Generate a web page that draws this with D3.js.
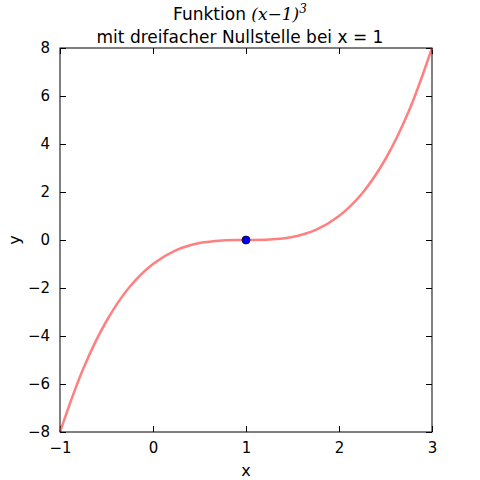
<!DOCTYPE html>
<html><head><meta charset="utf-8">
<script src="https://cdn.jsdelivr.net/npm/d3@7"></script>
<style>body{margin:0;background:#fff}text{font-family:"DejaVu Sans",sans-serif}</style>
</head><body><div id="chart"></div>
<script>
// curve values
const xs = [-1, -0.75, -0.5, -0.25, 0, 0.25, 0.5, 0.75, 1, 1.25, 1.5, 1.75, 2, 2.25, 2.5, 2.75, 3];
const ys = [-8, -5.36, -3.375, -1.95, -1, -0.42, -0.125, -0.016, 0, 0.016, 0.125, 0.42, 1, 1.95, 3.375, 5.36, 8];
const root = [{x: 1, y: 0}];
const xTicks = [-1, 0, 1, 2, 3];
const yTicks = [-8, -6, -4, -2, 0, 2, 4, 6, 8];

const width = 480, height = 480;
const margin = {top: 48, right: 48, bottom: 48, left: 60};
const data = xs.map((x, i) => ({x, y: ys[i]}));

const svg = d3.select("#chart").append("svg").attr("width", width).attr("height", height);

const xScale = d3.scaleLinear().domain([-1, 3]).range([margin.left, width - margin.right]);
const yScale = d3.scaleLinear().domain([-8, 8]).range([height - margin.bottom, margin.top]);

const fmt = (d) => d < 0 ? "\u2212" + Math.abs(d) : d;

// ticks inward on all four sides
const axes = [
  [d3.axisBottom(xScale).tickValues(xTicks).tickFormat(fmt), `translate(0,${height - margin.bottom})`, true],
  [d3.axisTop(xScale).tickValues(xTicks).tickFormat(""), `translate(0,${margin.top})`, false],
  [d3.axisLeft(yScale).tickValues(yTicks).tickFormat(fmt), `translate(${margin.left},0)`, true],
  [d3.axisRight(yScale).tickValues(yTicks).tickFormat(""), `translate(${width - margin.right},0)`, false],
];
axes.forEach(([ax, tr]) => {
  const g = svg.append("g").attr("transform", tr).call(ax.tickSizeInner(-6).tickSizeOuter(0).tickPadding(10));
  g.select(".domain").remove();
  g.selectAll("text").attr("font-size", 15).attr("fill", "#000");
  g.selectAll("line").attr("stroke", "#000");
});

svg.append("path")
  .datum(data)
  .attr("fill", "none")
  .attr("stroke", "#ff8080")
  .attr("stroke-width", 2.5)
  .attr("d", d3.line().x((d) => xScale(d.x)).y((d) => yScale(d.y)).curve(d3.curveCatmullRom));

svg.selectAll("circle.root").data(root).join("circle")
  .attr("cx", (d) => xScale(d.x)).attr("cy", (d) => yScale(d.y))
  .attr("r", 4).attr("fill", "#0000ff").attr("stroke", "#000").attr("stroke-width", 0.8);

svg.append("rect")
  .attr("x", margin.left).attr("y", margin.top)
  .attr("width", width - margin.left - margin.right).attr("height", height - margin.top - margin.bottom)
  .attr("fill", "none").attr("stroke", "#000").attr("stroke-width", 1);

// title
const t1 = svg.append("text").attr("x", width / 2).attr("y", 20).attr("text-anchor", "middle").attr("font-size", 17);
t1.append("tspan").text("Funktion ");
t1.append("tspan").attr("font-family", "DejaVu Serif").attr("font-style", "italic").text("(x\u22121)");
t1.append("tspan").attr("font-family", "DejaVu Serif").attr("font-style", "italic").attr("font-size", 12).attr("dy", -7).text("3");
svg.append("text").attr("x", width / 2).attr("y", 43).attr("text-anchor", "middle").attr("font-size", 17)
  .text("mit dreifacher Nullstelle bei x = 1");

svg.append("text").attr("x", xScale(1)).attr("y", 476).attr("text-anchor", "middle").attr("font-size", 16).text("x");
svg.append("text").attr("transform", `translate(20,${yScale(0)}) rotate(-90)`).attr("text-anchor", "middle").attr("font-size", 16).text("y");
</script></body></html>
